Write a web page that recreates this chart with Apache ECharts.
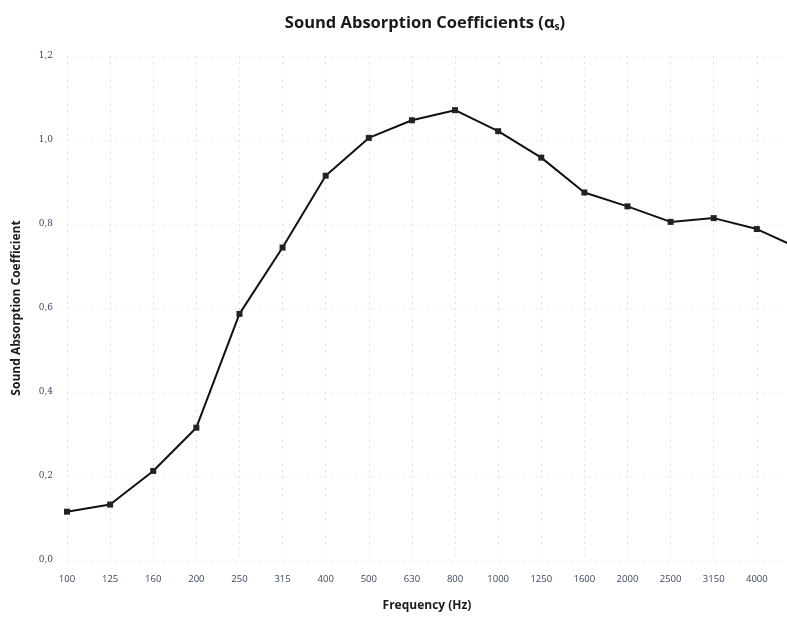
<!DOCTYPE html>
<html>
<head>
<meta charset="utf-8">
<script src="https://cdn.jsdelivr.net/npm/echarts@6/dist/echarts.min.js"></script>
<style>html,body{margin:0;padding:0;background:#fff;overflow:hidden;}#c{width:787px;height:617px;}</style>
</head>
<body>
<div id="c"></div>
<script>
var categories = ['100','125','160','200','250','315','400','500','630','800','1000','1250','1600','2000','2500','3150','4000','5000'];
var absorption = [0.115,0.132,0.212,0.315,0.586,0.744,0.915,1.005,1.047,1.071,1.021,0.958,0.875,0.842,0.805,0.814,0.788,0.741];
var yTicks = [0,0.2,0.4,0.6,0.8,1.0,1.2];

var chart = echarts.init(document.getElementById('c'));
var font = '"Open Sans", "DejaVu Sans", sans-serif';
chart.setOption({
  backgroundColor: '#fff',
  animation: false,
  title: {
    text: '{t|Sound Absorption Coefficients (α}{s|s}{t|)}',
    left: 420, top: 5, textAlign: 'center',
    textStyle: {
      rich: {
        t: {fontFamily: font, fontWeight: 'bold', fontSize: 16.5, color: '#1a1a1a', lineHeight: 26},
        s: {fontFamily: font, fontWeight: 'bold', fontSize: 10, color: '#1a1a1a', lineHeight: 26, padding: [8,0,0,0]}
      }
    }
  },
  grid: {left: 67, right: 0, top: 56, bottom: 51, containLabel: false},
  xAxis: {
    type: 'value', min: 0, max: 16.7, interval: 1,
    name: 'Frequency (Hz)', nameLocation: 'middle', nameGap: 40,
    nameTextStyle: {fontFamily: font, fontWeight: 'bold', fontSize: 12, color: '#1a1a1a'},
    axisLine: {show: false}, axisTick: {show: false},
    axisLabel: {fontFamily: font, fontSize: 9.5, color: '#3c4660', margin: 14,
      showMaxLabel: false,
      formatter: function (v) { return Number.isInteger(v) ? categories[v] : ''; }},
    splitLine: {show: true, lineStyle: {color: '#dde0e8', type: [2,4], width: 1}}
  },
  yAxis: {
    type: 'value', min: 0, max: 1.2, interval: 0.2,
    name: 'Sound Absorption Coefficient', nameLocation: 'middle', nameGap: 44,
    nameTextStyle: {fontFamily: font, fontWeight: 'bold', fontSize: 12, color: '#1a1a1a'},
    axisLine: {show: false}, axisTick: {show: false},
    axisLabel: {fontFamily: '"DejaVu Serif", serif', fontSize: 9, color: '#3c4660', margin: 14,
      formatter: function (v) { return yTicks.indexOf(Math.round(v*10)/10) >= 0 ? v.toFixed(1).replace('.', ',') : ''; }},
    splitLine: {show: true, lineStyle: {color: '#eceef2', type: [2,4], width: 1}}
  },
  series: [{
    type: 'line', data: absorption.map(function (v, i) { return [i, v]; }),
    symbol: 'rect', symbolSize: 6,
    lineStyle: {color: '#111', width: 2},
    itemStyle: {color: '#222'},
    clip: true
  }]
});
</script>
</body>
</html>
